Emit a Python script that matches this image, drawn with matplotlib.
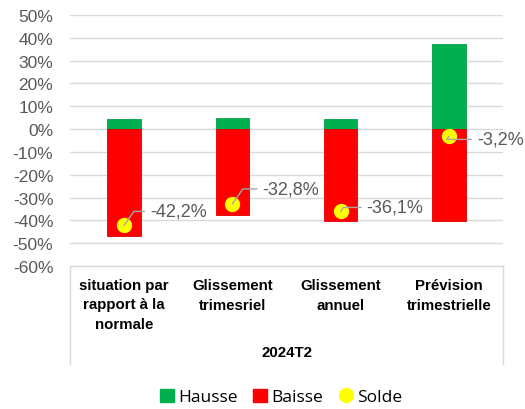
import matplotlib.pyplot as plt
from matplotlib.lines import Line2D
from matplotlib.patches import Rectangle

categories = ["situation par\nrapport à la\nnormale", "Glissement\ntrimesriel",
              "Glissement\nannuel", "Prévision\ntrimestrielle"]
group_label = "2024T2"
hausse = [4.6, 5.0, 4.3, 37.2]
baisse = [-46.8, -37.8, -40.4, -40.4]
solde = [-42.2, -32.8, -36.1, -3.2]
yticks = list(range(-60, 51, 10))

# label offsets (pixels) from each point
offsets = [(26, 14), (30, 15), (26, 4), (28, -3)]

fig = plt.figure(figsize=(5.25, 4.1), dpi=100)
ax = fig.add_axes([70 / 525, 1 - 267 / 410, 433 / 525, 251 / 410])

x = range(len(categories))
ax.bar(x, hausse, width=0.31, color="#00B050", edgecolor="#00A048", linewidth=0.6, zorder=2)
ax.bar(x, baisse, width=0.31, color="#FF0000", edgecolor="#E00000", linewidth=0.6, zorder=2)
ax.plot(x, solde, "o", color="#FFFF00", markersize=10, zorder=3, linestyle="none")

for xi, v, (dx, dy) in zip(x, solde, offsets):
    label = f"{v:.1f}%".replace(".", ",")
    ax.annotate(label, (xi, v), xytext=(dx, dy), textcoords="offset pixels",
                va="center", ha="left", fontsize=13, color="#595959",
                family="Liberation Sans", zorder=4,
                arrowprops=dict(arrowstyle="-", color="#A6A6A6", lw=1,
                                shrinkA=2, shrinkB=0,
                                connectionstyle="angle,angleA=180,angleB=55,rad=0"))

ax.set_xlim(-0.5, 3.5)
ax.set_ylim(-60, 50)
ax.set_yticks(yticks)
ax.set_yticklabels([f"{t}%" for t in yticks], fontsize=12.5, color="#595959",
                   family="Liberation Sans")
ax.tick_params(axis="y", length=0, pad=12)
ax.set_xticks([])
ax.grid(axis="y", color="#D9D9D9", lw=1, zorder=0)
for s in ax.spines.values():
    s.set_visible(False)

# multi-level category box
box_h = 98 / 251
ax.add_line(Line2D([0, 1], [0, 0], transform=ax.transAxes, color="#D9D9D9", lw=1, clip_on=False))
ax.add_line(Line2D([0, 0], [0, -box_h], transform=ax.transAxes, color="#D9D9D9", lw=1, clip_on=False))
ax.add_line(Line2D([1, 1], [0, -box_h], transform=ax.transAxes, color="#D9D9D9", lw=1, clip_on=False))
for xi, c in zip(x, categories):
    ax.annotate(c, (xi, 0), xycoords=("data", "axes fraction"), xytext=(0, -12),
                textcoords="offset pixels", ha="center", va="top", fontsize=10.8,
                fontweight="bold", family="Liberation Sans", linespacing=1.5)
ax.text(0.5, -86 / 251, group_label, transform=ax.transAxes, ha="center", va="center",
        fontsize=10.8, fontweight="bold", family="Liberation Sans")

handles = [Rectangle((0, 0), 1, 1, color="#00B050"),
           Rectangle((0, 0), 1, 1, color="#FF0000"),
           Line2D([], [], marker="o", color="#FFFF00", linestyle="none", markersize=10)]
fig.legend(handles, ["Hausse", "Baisse", "Solde"], loc="center", bbox_to_anchor=(0.535, 1 - 398 / 410),
           ncol=3, frameon=False, prop={"family": "Open Sans", "size": 12.5},
           handlelength=0.8, handleheight=0.8, handletextpad=0.25, columnspacing=0.9)

fig.savefig("out.png", dpi=100)
